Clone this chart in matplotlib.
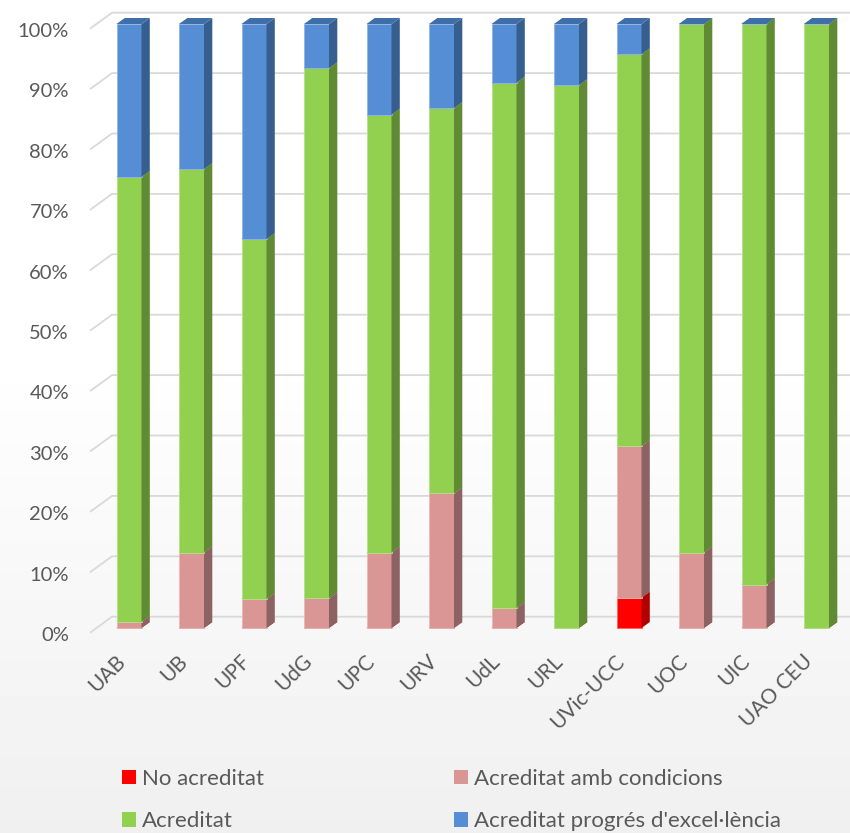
import numpy as np
import matplotlib
matplotlib.use("Agg")
import matplotlib.pyplot as plt
from matplotlib.patches import Polygon, Patch

# ---------------- data ----------------
categories = ["UAB", "UB", "UPF", "UdG", "UPC", "URV", "UdL", "URL",
              "UVic-UCC", "UOC", "UIC", "UAO CEU"]
no_acreditat = [0, 0, 0, 0, 0, 0, 0, 0, 5.0, 0, 0, 0]
acreditat_condicions = [1.0, 12.5, 4.8, 4.9, 12.5, 22.3, 3.3, 0, 25.1, 12.5, 7.2, 0]
acreditat = [73.7, 63.5, 59.6, 87.8, 72.5, 63.8, 87.0, 89.9, 64.9, 87.5, 92.8, 100.0]
acreditat_excel = [25.3, 24.0, 35.6, 7.3, 15.0, 13.9, 9.7, 10.1, 5.0, 0, 0, 0]
ytick_values = [0, 10, 20, 30, 40, 50, 60, 70, 80, 90, 100]
ytick_labels = ["0%", "10%", "20%", "30%", "40%", "50%", "60%", "70%", "80%", "90%", "100%"]
series_names = ["No acreditat", "Acreditat amb condicions", "Acreditat",
                "Acreditat progrés d'excel·lència"]

# ---------------- styling ----------------
font = ["Lato", "DejaVu Sans"]
plt.rcParams["font.family"] = font
text_color = "#595959"
front_cols = ["#ff0000", "#d99694", "#92d050", "#558ed5"]
side_cols = ["#b00000", "#8c6262", "#608a34", "#365f8f"]
top_cols = ["#c00000", "#a87272", "#6f9c3c", "#3f6ea8"]
edge_cols = ["#ff6060", "#e8b8b6", "#b4e08a", "#8fb4e6"]

W, H = 850, 833
fig = plt.figure(figsize=(W / 100, H / 100), dpi=100)

# background gradient (white top -> light grey bottom)
bg = fig.add_axes([0, 0, 1, 1], zorder=-10)
grad = np.ones((200, 1))
t = np.linspace(0, 1, 200)
grad[:, 0] = np.where(t < 0.42, 1.0, 1.0 - (t - 0.42) / 0.58 * 0.06)
bg.imshow(grad, aspect="auto", cmap="gray", vmin=0, vmax=1, extent=[0, 1, 0, 1])
bg.axis("off")

# main axes in pixel-calibrated position
ax_l, ax_r, ax_t, ax_b = 90, 850, 5, 640
ax = fig.add_axes([ax_l / W, (H - ax_b) / H, (ax_r - ax_l) / W, (ax_b - ax_t) / H])
ax.patch.set_alpha(0)
px_per_cat = 62.5
x0_px = 129
px_per_pct = 6.04
y0_px = 628
ax.set_xlim((ax_l - x0_px) / px_per_cat, (ax_r - x0_px) / px_per_cat)
ax.set_ylim((y0_px - ax_b) / px_per_pct, (y0_px - ax_t) / px_per_pct)
for s in ax.spines.values():
    s.set_visible(False)

xlo, xhi = ax.get_xlim()
wall_back_x = (112 - x0_px) / px_per_cat
front_off = -0.78
back_off = 1.87

# gridlines with a 3D side wall
for v in ytick_values:
    ax.plot([xlo, wall_back_x, xhi], [v + front_off, v + back_off, v + back_off],
            color="#d9d9d9", lw=1.3, zorder=1, solid_capstyle="butt", clip_on=False)
    ax.text(xlo - 21 / px_per_cat, v - 1.25, ytick_labels[v // 10], ha="right", va="center",
            fontsize=14.5, color=text_color, family=font, clip_on=False)

# 3D-looking stacked bars
x = np.arange(len(categories))
bw = 0.4
dx = 8.3 / px_per_cat
dy = 6.0 / px_per_pct
series = [no_acreditat, acreditat_condicions, acreditat, acreditat_excel]
bottom = np.zeros(len(categories))
z = 2
for k, vals in enumerate(series):
    vals = np.array(vals, dtype=float)
    bars = ax.bar(x, vals, bw, bottom=bottom, color=front_cols[k],
                  edgecolor=edge_cols[k], linewidth=0.6, zorder=z)
    for i, b in enumerate(bars):
        xl = b.get_x()
        xr = xl + b.get_width()
        yb = b.get_y()
        yt = yb + b.get_height()
        side = Polygon([[xr, yb], [xr + dx, yb + dy], [xr + dx, yt + dy], [xr, yt]],
                       closed=True, facecolor=side_cols[k], edgecolor="none", zorder=z)
        top = Polygon([[xl, yt], [xr, yt], [xr + dx, yt + dy], [xl + dx, yt + dy]],
                      closed=True, facecolor=top_cols[k], edgecolor="none", zorder=z)
        ax.add_patch(side)
        ax.add_patch(top)
    bottom = bottom + vals
    z += 1

ax.set_yticks([])
ax.set_xticks(x)
ax.set_xticklabels(categories, rotation=45, ha="right", va="top",
                   fontsize=15, color=text_color, family=font)
ax.tick_params(axis="x", length=0, pad=8)

# legend (column-major order)
handles = [Patch(facecolor=front_cols[0], label=series_names[0]),
           Patch(facecolor=front_cols[2], label=series_names[2]),
           Patch(facecolor=front_cols[1], label=series_names[1]),
           Patch(facecolor=front_cols[3], label=series_names[3])]
leg = fig.legend(handles=handles, ncol=2, loc="upper left",
                 bbox_to_anchor=(122 / W, (H - 769) / H), frameon=False,
                 fontsize=16, handlelength=0.62, handleheight=0.62,
                 handletextpad=0.27, columnspacing=8.55, labelspacing=1.0,
                 borderpad=0, borderaxespad=0)
for t_ in leg.get_texts():
    t_.set_color(text_color)

fig.savefig("out.png", dpi=100)
